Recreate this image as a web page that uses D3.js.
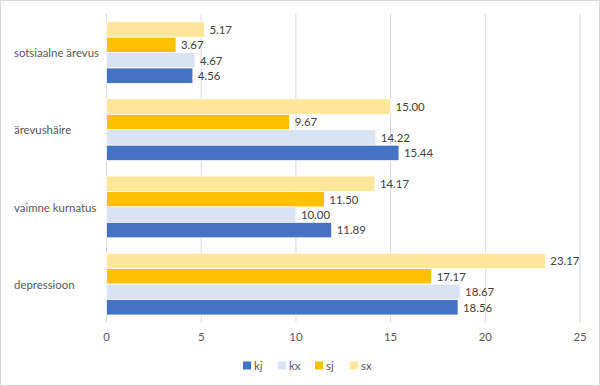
<!DOCTYPE html>
<html>
<head>
<meta charset="utf-8">
<script src="https://cdn.jsdelivr.net/npm/d3@7"></script>
<style>
  body { margin: 0; background: #fff; }
  svg { display: block; font-family: Lato, "Liberation Sans", Arial, sans-serif; }
</style>
</head>
<body>
<svg id="chart" width="600" height="386"></svg>
<script>
// categories, top to bottom
var categories = ["sotsiaalne ärevus", "ärevushäire", "vaimne kurnatus", "depressioon"];

// series (legend order)
var seriesNames = ["kj", "kx", "sj", "sx"];
var kj = [4.56, 15.44, 11.89, 18.56];
var kx = [4.67, 14.22, 10.00, 18.67];
var sj = [3.67, 9.67, 11.50, 17.17];
var sx = [5.17, 15.00, 14.17, 23.17];
var xTicks = [0, 5, 10, 15, 20, 25];

var colors = { kj: "#4472C4", kx: "#DAE3F3", sj: "#FFC000", sx: "#FFE699" };
var values = { kj: kj, kx: kx, sj: sj, sx: sx };

// bars inside a group are drawn sx, sj, kx, kj from top
var stackOrder = ["sx", "sj", "kx", "kj"];

var svg = d3.select("#chart");
var W = 600, H = 386;
var margin = { left: 106.5, right: 20, top: 14, bottom: 63.3 };
var fs = 11.4;

// chart border
svg.append("rect")
  .attr("x", 0.5).attr("y", 0.5)
  .attr("width", W - 1).attr("height", H - 1)
  .attr("fill", "#fff").attr("stroke", "#d9d9d9");

var x = d3.scaleLinear().domain([0, 25]).range([margin.left, 580]);
var y = d3.scaleBand().domain(categories)
  .range([margin.top, H - margin.bottom])
  .paddingInner(0.2).paddingOuter(0.1);
var yi = d3.scaleBand().domain(stackOrder).range([0, y.bandwidth()]);

// gridlines
svg.append("g")
  .selectAll("line")
  .data(xTicks)
  .enter()
  .append("line")
  .attr("x1", (d) => x(d)).attr("x2", (d) => x(d))
  .attr("y1", margin.top).attr("y2", H - margin.bottom)
  .attr("stroke", "#d9d9d9").attr("stroke-width", 1);

// x tick labels
svg.append("g")
  .selectAll("text")
  .data(xTicks)
  .enter()
  .append("text")
  .attr("x", (d) => x(d))
  .attr("y", 341)
  .attr("text-anchor", "middle")
  .attr("font-size", fs)
  .attr("fill", "#595959")
  .text((d) => d);

// category labels
svg.append("g")
  .selectAll("text")
  .data(categories)
  .enter()
  .append("text")
  .attr("x", 14)
  .attr("y", (d) => y(d) + y.bandwidth() / 2 + 4.6)
  .attr("font-size", fs)
  .attr("fill", "#595959")
  .text((d) => d);

// bars + labels
var groups = svg.append("g")
  .selectAll("g")
  .data(categories)
  .enter()
  .append("g")
  .attr("transform", (d) => "translate(0," + y(d) + ")");

groups.each(function (cat, ci) {
  var g = d3.select(this);
  var rows = stackOrder.map((s) => ({ s: s, v: values[s][ci] }));
  g.selectAll("rect")
    .data(rows)
    .enter()
    .append("rect")
    .attr("x", x(0))
    .attr("y", (d) => yi(d.s))
    .attr("width", (d) => x(d.v) - x(0))
    .attr("height", yi.bandwidth())
    .attr("fill", (d) => colors[d.s])
    .attr("stroke", "#fff")
    .attr("stroke-width", 0.75);
  g.selectAll("text")
    .data(rows)
    .enter()
    .append("text")
    .attr("x", (d) => x(d.v) + 5)
    .attr("y", (d) => yi(d.s) + yi.bandwidth() / 2 + 4.3)
    .attr("font-size", fs)
    .attr("fill", "#404040")
    .text((d) => d.v.toFixed(2));
});

// legend
var legendX = [243, 278, 315, 350];
var legend = svg.append("g")
  .selectAll("g")
  .data(seriesNames)
  .enter()
  .append("g")
  .attr("transform", (d, i) => "translate(" + legendX[i] + ",361.5)");
legend.append("rect")
  .attr("width", 8).attr("height", 8)
  .attr("fill", (d) => colors[d]);
legend.append("text")
  .attr("x", 11).attr("y", 8.5)
  .attr("font-size", fs)
  .attr("fill", "#595959")
  .text((d) => d);
</script>
</body>
</html>
